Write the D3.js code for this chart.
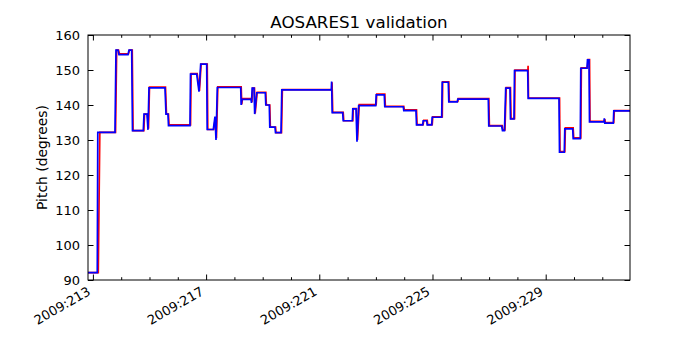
<!DOCTYPE html>
<html>
<head>
<meta charset="utf-8">
<script src="https://cdn.jsdelivr.net/npm/d3@7"></script>
<style>
  body { margin: 0; background: #fff; }
  svg { font-family: "DejaVu Sans", sans-serif; }
</style>
</head>
<body>
<svg id="chart" width="700" height="350"></svg>
<script>
// blue trace
var telemDays = [212.827, 213.155, 213.173, 213.781, 213.816, 213.887, 213.922, 214.240, 214.276, 214.371,
  214.399, 214.781, 214.806, 214.912, 214.947, 214.982, 215.548, 215.583, 215.654, 215.671,
  216.431, 216.449, 216.668, 216.749, 216.809, 217.021, 217.039, 217.254, 217.314, 217.350,
  217.396, 218.223, 218.240, 218.269, 218.587, 218.604, 218.629, 218.693, 218.717, 218.788,
  219.092, 219.110, 219.233, 219.251, 219.435, 219.452, 219.647, 219.675, 221.424, 221.435,
  221.456, 221.827, 221.845, 222.166, 222.184, 222.297, 222.332, 222.392, 222.993, 223.011,
  223.297, 223.314, 223.968, 223.986, 224.417, 224.435, 224.654, 224.671, 224.795, 224.813,
  224.972, 224.989, 225.325, 225.343, 225.558, 225.576, 225.876, 225.894, 226.972, 226.989,
  227.445, 227.473, 227.544, 227.587, 227.739, 227.756, 227.880, 227.898, 228.364, 228.382,
  229.470, 229.488, 229.657, 229.675, 229.954, 229.972, 230.223, 230.240, 230.459, 230.477,
  230.530, 230.548, 231.060, 231.071, 231.088, 231.389, 231.406, 231.979];
var telemPitch = [92.1, 92.1, 132.2, 132.2, 155.7, 155.7, 154.4, 154.4, 155.7, 155.7,
  132.7, 132.7, 137.4, 137.4, 132.9, 144.9, 144.9, 137.4, 137.4, 134.1,
  134.1, 148.8, 148.8, 143.8, 151.7, 151.7, 133.0, 133.0, 136.7, 130.0,
  145.0, 145.0, 140.0, 141.6, 141.6, 140.6, 144.8, 144.8, 137.4, 143.5,
  143.5, 140.0, 140.0, 133.7, 133.7, 132.1, 132.1, 144.3, 144.3, 146.7,
  137.8, 137.8, 135.5, 135.5, 138.9, 138.9, 129.5, 139.8, 139.8, 142.9,
  142.9, 139.5, 139.5, 138.4, 138.4, 134.3, 134.3, 135.5, 135.5, 134.3,
  134.3, 136.5, 136.5, 146.5, 146.5, 140.9, 140.9, 141.7, 141.7, 134.0,
  134.0, 132.7, 132.7, 144.8, 144.8, 136.0, 136.0, 149.8, 149.8, 141.9,
  141.9, 126.5, 126.5, 133.2, 133.2, 130.4, 130.4, 150.5, 150.5, 152.9,
  152.9, 135.2, 135.2, 136.2, 134.8, 134.8, 138.3, 138.3];

// red trace (mostly hidden under the blue one)
var modelDays = [212.827, 213.190, 213.245, 213.800, 213.840, 213.905, 213.940, 214.255, 214.295, 214.390,
  214.420, 214.800, 214.825, 214.930, 214.965, 215.000, 215.565, 215.600, 215.670, 215.690,
  216.450, 216.470, 216.685, 216.765, 216.825, 217.040, 217.060, 217.270, 217.330, 217.365,
  217.415, 218.240, 218.260, 218.285, 218.605, 218.620, 218.645, 218.710, 218.735, 218.805,
  219.110, 219.130, 219.250, 219.270, 219.455, 219.470, 219.665, 219.695, 221.440, 221.450,
  221.475, 221.845, 221.865, 222.185, 222.200, 222.315, 222.350, 222.410, 223.010, 223.030,
  223.315, 223.335, 223.985, 224.005, 224.435, 224.455, 224.670, 224.690, 224.815, 224.830,
  224.990, 225.010, 225.345, 225.360, 225.575, 225.595, 225.895, 225.910, 226.990, 227.010,
  227.465, 227.490, 227.560, 227.605, 227.755, 227.775, 227.900, 227.915, 228.372, 228.378,
  228.392, 229.490, 229.505, 229.675, 229.695, 229.970, 229.990, 230.240, 230.260, 230.475,
  230.495, 230.550, 230.565, 231.075, 231.090, 231.105, 231.405, 231.425, 231.979];
var modelPitch = [92.1, 92.1, 132.2, 132.2, 155.7, 155.7, 154.6, 154.6, 155.7, 155.7,
  132.7, 132.7, 137.4, 137.4, 133.2, 145.1, 145.1, 137.4, 137.4, 134.3,
  134.3, 149.0, 149.0, 144.0, 151.7, 151.7, 133.0, 133.0, 136.5, 130.5,
  145.2, 145.2, 140.2, 141.8, 141.8, 140.8, 144.8, 144.8, 137.6, 143.6,
  143.6, 140.0, 140.0, 133.7, 133.7, 132.1, 132.1, 144.4, 144.4, 146.5,
  137.9, 137.9, 135.5, 135.5, 139.0, 139.0, 130.0, 140.1, 140.1, 143.1,
  143.1, 139.6, 139.6, 138.6, 138.6, 134.4, 134.4, 135.6, 135.6, 134.4,
  134.4, 136.6, 136.6, 146.6, 146.6, 141.0, 141.0, 141.8, 141.8, 134.1,
  134.1, 132.9, 132.9, 145.0, 145.0, 136.1, 136.1, 150.0, 150.0, 151.2,
  142.0, 142.0, 126.7, 126.7, 133.5, 133.5, 130.6, 130.6, 150.6, 150.6,
  153.0, 153.0, 135.3, 135.3, 136.0, 135.0, 135.0, 138.4, 138.4];

var xMajorDays = [213, 217, 221, 225, 229];
var xTickLabels = ["2009:213", "2009:217", "2009:221", "2009:225", "2009:229"];
var xMinorDays = [214, 215, 216, 218, 219, 220, 222, 223, 224, 226, 227, 228, 230, 231];
var yTicks = [90, 100, 110, 120, 130, 140, 150, 160];

var margin = {top: 35, right: 70, bottom: 70, left: 88};
var svg = d3.select("#chart");
var width = 700 - margin.left - margin.right,
    height = 350 - margin.top - margin.bottom;

var g = svg.append("g")
    .attr("transform", "translate(" + margin.left + "," + margin.top + ")");

var xScale = d3.scaleLinear()
    .domain([212.827, 231.979])
    .range([0, width]);

var yScale = d3.scaleLinear()
    .domain([90, 160])
    .range([height, 0]);

g.append("clipPath").attr("id", "plotclip")
  .append("rect").attr("width", width).attr("height", height);

function drawTrace(days, pitch, colour) {
  var line = d3.line()
      .x(function(d, i) { return xScale(days[i]); })
      .y(function(d) { return yScale(d); });
  g.append("path")
      .datum(pitch)
      .attr("clip-path", "url(#plotclip)")
      .attr("fill", "none")
      .attr("stroke", colour)
      .attr("stroke-width", 1.7)
      .attr("stroke-linejoin", "miter")
      .attr("d", line);
}
drawTrace(modelDays, modelPitch, "#ff0000");
drawTrace(telemDays, telemPitch, "#0000ff");

// ticks point inward, on all four sides (matplotlib look)
var labelFmt = function(d) { return xTickLabels[xMajorDays.indexOf(d)]; };

var xBottom = g.append("g")
    .attr("transform", "translate(0," + height + ")")
    .call(d3.axisBottom(xScale).tickValues(xMajorDays).tickSizeInner(-5.5).tickSizeOuter(0).tickFormat(labelFmt));
xBottom.selectAll("text")
    .attr("y", 0).attr("dy", null)
    .attr("font-size", 13)
    .style("text-anchor", "end")
    .attr("transform", "translate(-2,14) rotate(-30)");

g.append("g")
    .attr("transform", "translate(0," + height + ")")
    .call(d3.axisBottom(xScale).tickValues(xMinorDays).tickSizeInner(-2.8).tickSizeOuter(0).tickFormat(""));
g.append("g")
    .call(d3.axisTop(xScale).tickValues(xMajorDays).tickSizeInner(-5.5).tickSizeOuter(0).tickFormat(""));
g.append("g")
    .call(d3.axisTop(xScale).tickValues(xMinorDays).tickSizeInner(-2.8).tickSizeOuter(0).tickFormat(""));

var yLeft = g.append("g")
    .call(d3.axisLeft(yScale).tickValues(yTicks).tickSizeInner(-5.5).tickSizeOuter(0).tickPadding(8));
yLeft.selectAll("text").attr("font-size", 13);
g.append("g")
    .attr("transform", "translate(" + width + ",0)")
    .call(d3.axisRight(yScale).tickValues(yTicks).tickSizeInner(-5.5).tickSizeOuter(0).tickFormat(""));

g.selectAll(".domain").remove();
g.selectAll(".tick line").attr("stroke", "#000");
g.selectAll(".tick text").attr("fill", "#000").attr("font-family", "DejaVu Sans");

g.append("rect")
    .attr("width", width)
    .attr("height", height)
    .attr("fill", "none")
    .attr("stroke", "#000")
    .attr("stroke-width", 1);

svg.append("text")
    .attr("x", margin.left + width / 2)
    .attr("y", 28)
    .attr("text-anchor", "middle")
    .attr("font-size", 16.7)
    .text("AOSARES1 validation");

svg.append("text")
    .attr("transform", "translate(47," + (margin.top + height / 2) + ") rotate(-90)")
    .attr("text-anchor", "middle")
    .attr("font-size", 13.9)
    .text("Pitch (degrees)");
</script>
</body>
</html>
